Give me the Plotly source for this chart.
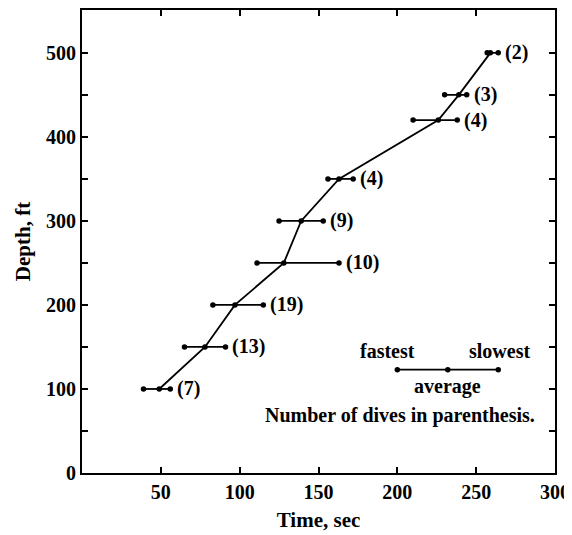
import plotly.graph_objects as go

depth = [100, 150, 200, 250, 300, 350, 420, 450, 500]
fastest = [39, 65, 83, 111, 125, 156, 210, 230, 257]
average = [49, 78, 97, 128, 139, 163, 226, 239, 259]
slowest = [56, 91, 115, 163, 153, 172, 238, 244, 264]
dives = [7, 13, 19, 10, 9, 4, 4, 3, 2]

key_depth = 123
key_fastest, key_average, key_slowest = 200, 232, 264

x_ticks = [50, 100, 150, 200, 250, 300]
y_ticks = [0, 50, 100, 150, 200, 250, 300, 350, 400, 450, 500]
y_text = ["0", "", "100", "", "200", "", "300", "", "400", "", "500"]

FONT = "Liberation Serif"
fig = go.Figure()

# range bars
bx, by = [], []
for d, f, s in zip(depth, fastest, slowest):
    bx += [f, s, None]
    by += [d, d, None]
fig.add_trace(go.Scatter(x=bx, y=by, mode="lines", line=dict(color="black", width=1.8),
                         hoverinfo="skip", showlegend=False))
# dots
px, py = [], []
for d, f, a, s in zip(depth, fastest, average, slowest):
    px += [f, a, s]
    py += [d, d, d]
fig.add_trace(go.Scatter(x=px, y=py, mode="markers", marker=dict(color="black", size=5.5),
                         showlegend=False))
# average line
fig.add_trace(go.Scatter(x=average, y=depth, mode="lines", line=dict(color="black", width=1.8),
                         showlegend=False))
# key
fig.add_trace(go.Scatter(x=[key_fastest, key_slowest], y=[key_depth, key_depth], mode="lines+markers",
                         line=dict(color="black", width=1.8), marker=dict(color="black", size=5.5),
                         showlegend=False))
fig.add_trace(go.Scatter(x=[key_average], y=[key_depth], mode="markers",
                         marker=dict(color="black", size=5.5), showlegend=False))

tf = dict(family=FONT, size=20, color="black")
for d, s, n in zip(depth, slowest, dives):
    fig.add_annotation(x=s, y=d, text=f"<b>({n})</b>", showarrow=False, xanchor="left",
                       xshift=5, font=tf)

fig.add_annotation(x=194, y=key_depth, text="<b>fastest</b>", showarrow=False,
                   yshift=19, font=tf)
fig.add_annotation(x=265, y=key_depth, text="<b>slowest</b>", showarrow=False,
                   yshift=19, font=tf)
fig.add_annotation(x=key_average, y=key_depth, text="<b>average</b>", showarrow=False,
                   yshift=-17, font=tf)
fig.add_annotation(x=202, y=69, text="<b>Number of dives in parenthesis.</b>", showarrow=False,
                   font=tf)

axis_common = dict(showgrid=False, zeroline=False, showline=True, linecolor="black", linewidth=2,
                   mirror="ticks", ticks="inside", ticklen=6, tickwidth=2, tickcolor="black",
                   tickfont=dict(family=FONT, size=20, color="black"))
fig.update_xaxes(range=[0, 300], tickvals=x_ticks, ticktext=[f"<b>{v}</b>" for v in x_ticks],
                 title=dict(text="<b>Time, sec</b>", font=dict(family=FONT, size=21, color="black"),
                            standoff=10),
                 **axis_common)
fig.update_yaxes(range=[0, 551], tickvals=y_ticks, ticktext=[f"<b>{t}</b>" if t else "" for t in y_text],
                 title=dict(text="<b>Depth, ft</b>", font=dict(family=FONT, size=21, color="black"),
                            standoff=10),
                 **axis_common)

# page body has an 8px margin, so shift margins to place the plot area
fig.update_layout(width=572, height=535, margin=dict(l=74, r=25, t=2, b=70, autoexpand=False),
                  plot_bgcolor="white", paper_bgcolor="white", showlegend=False)
fig.write_html("out.html")
